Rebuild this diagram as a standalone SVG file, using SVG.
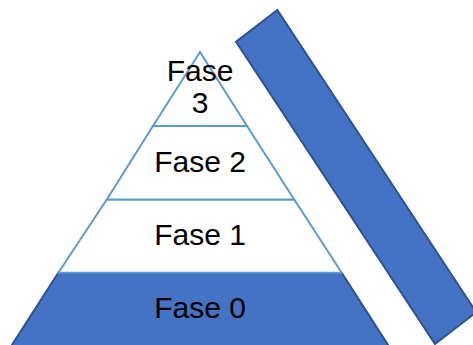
<svg xmlns="http://www.w3.org/2000/svg" width="473" height="345" viewBox="0 0 473 345">
<style>
.lvl{fill:#FFFFFF;stroke:#5B9BD5;stroke-width:2}
.dark{fill:#4472C4;stroke:#2F528F;stroke-width:2}
.t{font-family:"Liberation Sans",Arial,sans-serif;font-size:30px;fill:#000;text-anchor:middle}
</style>
<rect width="473" height="345" fill="#FFFFFF"/>
<g id="bar">
<polygon class="dark" points="277.3,10 236,41.7 435,344 476.3,312.3"/>
</g>
<g id="fase0">
<polygon class="dark" points="58.3,272.7 341.7,272.7 390,348 10,348"/>
<text class="t" x="200" y="318">Fase 0</text>
</g>
<g id="fase1">
<polygon class="lvl" points="106.8,199.5 294.2,199.5 341.7,272.7 58.3,272.7"/>
<text class="t" x="200" y="245">Fase 1</text>
</g>
<g id="fase2">
<polygon class="lvl" points="153,126 247,126 294.2,199.5 106.8,199.5"/>
<text class="t" x="200" y="171.5">Fase 2</text>
</g>
<g id="fase3">
<polygon class="lvl" points="200,52 247,126 153,126"/>
<text class="t" x="200" y="81">Fase</text>
<text class="t" x="200" y="113">3</text>
</g>
</svg>
